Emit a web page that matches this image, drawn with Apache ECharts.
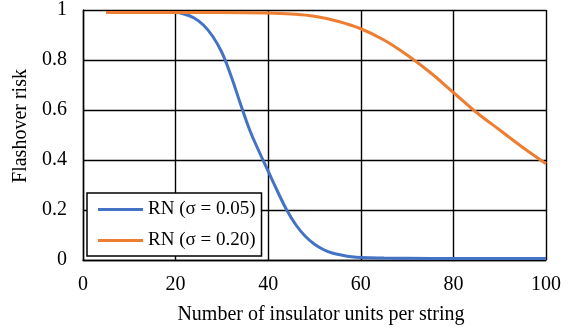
<!DOCTYPE html>
<html>
<head>
<meta charset="utf-8">
<script src="https://cdn.jsdelivr.net/npm/echarts@6/dist/echarts.min.js"></script>
<style>html,body{margin:0;padding:0;background:#fff;}#c{width:573px;height:330px;}</style>
</head>
<body>
<div id="c"></div>
<script>
const seriesNames = ['RN (σ = 0.05)', 'RN (σ = 0.20)'];
const blueX = [5, 10, 15, 20, 22, 24, 26, 28, 30, 32, 34, 36, 38, 40, 42, 44, 46, 48, 50, 52, 54, 56, 58, 60, 65, 70, 80, 90, 100];
const blueY = [0.99, 0.99, 0.99, 0.99, 0.983, 0.968, 0.94, 0.895, 0.83, 0.735, 0.625, 0.52, 0.435, 0.355, 0.275, 0.20, 0.14, 0.095, 0.063, 0.041, 0.027, 0.019, 0.013, 0.01, 0.008, 0.007, 0.006, 0.006, 0.006];
const orangeX = [5, 10, 20, 30, 40, 45, 50, 55, 60, 65, 70, 75, 80, 85, 90, 95, 100];
const orangeY = [0.99, 0.99, 0.99, 0.99, 0.988, 0.984, 0.975, 0.955, 0.925, 0.88, 0.82, 0.75, 0.67, 0.59, 0.52, 0.45, 0.385];
const xTitle = 'Number of insulator units per string';
const yTitle = 'Flashover risk';

const font = 'Liberation Serif, Times New Roman, serif';
const chart = echarts.init(document.getElementById('c'), null, {renderer: 'canvas'});
chart.setOption({
  animation: false,
  backgroundColor: '#fff',
  grid: {left: 83, right: 27, top: 7, bottom: 70, containLabel: false},
  xAxis: {
    type: 'value', min: 0, max: 100, interval: 20,
    name: xTitle, nameLocation: 'middle', nameGap: 45,
    nameTextStyle: {fontFamily: font, fontSize: 20, color: '#000', padding: [0, 0, 0, 13]},
    axisLine: {show: true, lineStyle: {color: '#000', width: 1.4}},
    axisTick: {show: false},
    axisLabel: {fontFamily: font, fontSize: 20, color: '#000', margin: 15},
    splitLine: {show: true, lineStyle: {color: '#000', width: 1.4}}
  },
  yAxis: {
    type: 'value', min: 0, max: 1, interval: 0.2,
    name: yTitle, nameLocation: 'middle', nameGap: 52,
    nameTextStyle: {fontFamily: font, fontSize: 20, color: '#000', padding: [0, 0, 0, 18]},
    axisLine: {show: true, lineStyle: {color: '#000', width: 1.4}},
    axisTick: {show: false},
    axisLabel: {fontFamily: font, fontSize: 20, color: '#000', margin: 16},
    splitLine: {show: true, lineStyle: {color: '#000', width: 1.4}}
  },
  legend: {
    left: 87, top: 193, orient: 'vertical',
    data: seriesNames,
    icon: 'rect', itemWidth: 45, itemHeight: 3, itemGap: 12,
    padding: [7, 6, 6, 11],
    backgroundColor: '#fff', borderColor: '#000', borderWidth: 1.5,
    textStyle: {fontFamily: font, fontSize: 19, color: '#000'}
  },
  series: [
    {name: seriesNames[0], type: 'line', showSymbol: false, smooth: 0.4,
     data: blueX.map((x, i) => [x, blueY[i]]),
     color: '#4472C4', lineStyle: {width: 3, color: '#4472C4'}},
    {name: seriesNames[1], type: 'line', showSymbol: false, smooth: 0.4,
     data: orangeX.map((x, i) => [x, orangeY[i]]),
     color: '#ED7D31', lineStyle: {width: 3, color: '#ED7D31'}}
  ]
});
</script>
</body>
</html>
